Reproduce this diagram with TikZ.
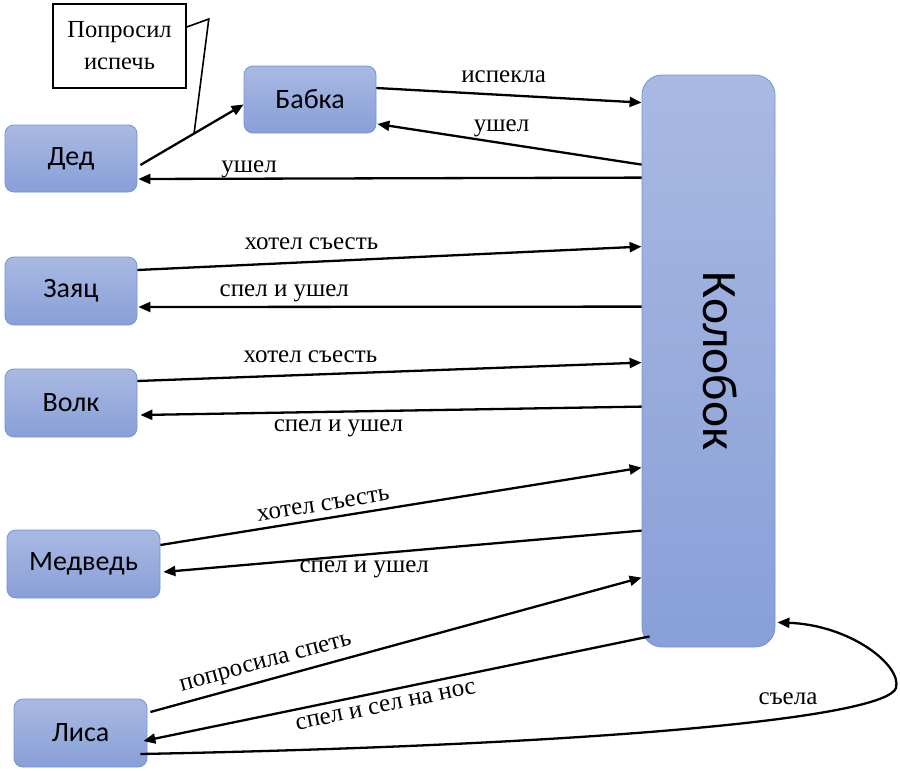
\documentclass[tikz,border=0pt]{standalone}
\usepackage{fontspec}
\setmainfont{Liberation Serif}
\newfontfamily\carlito{Carlito}
\usetikzlibrary{arrows.meta}

\definecolor{boxtop}{HTML}{A9B9E2}
\definecolor{boxbottom}{HTML}{889FD8}
\definecolor{boxline}{HTML}{7094DA}

\begin{document}
\begin{tikzpicture}[
    x=1pt, y=-1pt,
    >={Triangle[length=12pt,width=10pt]},
    hero/.style={draw=boxline, line width=0.8pt, top color=boxtop, bottom color=boxbottom,
        rounded corners=9pt, minimum width=132pt, minimum height=67pt, inner sep=0pt,
        font=\carlito\fontsize{28}{32}\selectfont},
    lbl/.style={font=\fontsize{25}{29}\selectfont, inner sep=3pt},
    every edge/.style={draw, line width=2.3pt}
]
    \useasboundingbox (0,0) rectangle (900,771);

    % --- CHARACTERS ---
    \node[hero] (ded) at (71,158.5) {Дед};
    \node[hero] (babka) at (310,99.5) {Бабка};
    \node[hero, minimum height=68pt] (zayac) at (71,291) {Заяц};
    \node[hero, minimum height=68pt] (volk) at (71,403) {Волк};
    \node[hero, minimum width=153pt, minimum height=68pt] (medved) at (83.5,564) {Медведь};
    \node[hero, minimum width=133pt, minimum height=68pt] (lisa) at (80.5,733) {Лиса};

    % the hero of the tale, tall box on the right
    \node[hero, minimum width=133pt, minimum height=572pt, rounded corners=20pt,
        font=\carlito\fontsize{49.5}{56}\selectfont] (kolobok) at (708.5,361)
        {\hspace*{24pt}\rotatebox{-90}{Колобок}};

    % --- CALLOUT ---
    \node[draw, line width=1.6pt, fill=white, minimum width=133pt, minimum height=84pt,
        inner sep=0pt, align=center, font=\fontsize{24.5}{32}\selectfont] (prosil) at (119.5,46)
        {Попросил\\испечь};

    \draw[->, line width=2.3pt] ([xshift=3pt,yshift=-6.5pt]ded.east) -- coordinate[pos=0.52] (tip) ([yshift=-5pt]babka.west);
    \draw[line width=1.6pt] ([yshift=19pt]prosil.east) -- ++(22,-8) -- (tip);

    % --- BABKA AND DED ---
    \path[->]
        ([yshift=11.5pt]babka.east) edge node[lbl, pos=0.48, above=8pt] {испекла} ([yshift=-28pt]kolobok.north west)
        ([yshift=-90pt]kolobok.north west) edge node[lbl, pos=0.53, above=2pt] {ушел} ([xshift=1pt,yshift=-24.5pt]babka.east)
        ([yshift=-103pt]kolobok.north west) edge node[lbl, pos=0.78, above=-3pt] {ушел} ([xshift=1pt,yshift=-20.5pt]ded.east);

    % --- ZAYAC, VOLK, MEDVED ---
    \path[->]
        ([yshift=21pt]zayac.east) edge node[lbl, pos=0.345, above=8pt] {хотел съесть} ([yshift=-172pt]kolobok.north west)
        ([yshift=-232pt]kolobok.north west) edge node[lbl, pos=0.71, above=1pt] {спел и ушел} ([xshift=1pt,yshift=-16pt]zayac.east)
        ([yshift=22pt]volk.east) edge node[lbl, pos=0.343, above=8pt] {хотел съесть} ([yshift=-288pt]kolobok.north west)
        ([yshift=-332pt]kolobok.north west) edge node[lbl, pos=0.605, below=4pt] {спел и ушел} ([xshift=3pt,yshift=-12pt]volk.east)
        ([yshift=19pt]medved.east) edge node[lbl, pos=0.343, above=3.5pt, sloped] {хотел съесть} ([yshift=-393pt]kolobok.north west)
        ([yshift=-456pt]kolobok.north west) edge node[lbl, pos=0.58, below=2pt] {спел и ушел} ([xshift=3pt,yshift=-8pt]medved.east);

    % --- LISA ---
    \path[->]
        ([xshift=3pt,yshift=21pt]lisa.east) edge node[lbl, pos=0.244, above=2.5pt, sloped] {попросила спеть} ([yshift=-503pt]kolobok.north west)
        ([xshift=8pt,yshift=11pt]kolobok.south west) edge node[lbl, pos=0.527, below=4.5pt, sloped] {спел и сел на нос} ([xshift=-4pt,yshift=-8pt]lisa.east);

    \draw[->, line width=2.3pt] ([xshift=-7pt,yshift=-21pt]lisa.east)
        .. controls (600,745) and (885,718) .. (896,688) node[lbl, pos=0.65, above=9pt] {съела}
        .. controls (902,665) and (850,625) .. ([xshift=2pt,yshift=25pt]kolobok.south east);

\end{tikzpicture}
\end{document}
